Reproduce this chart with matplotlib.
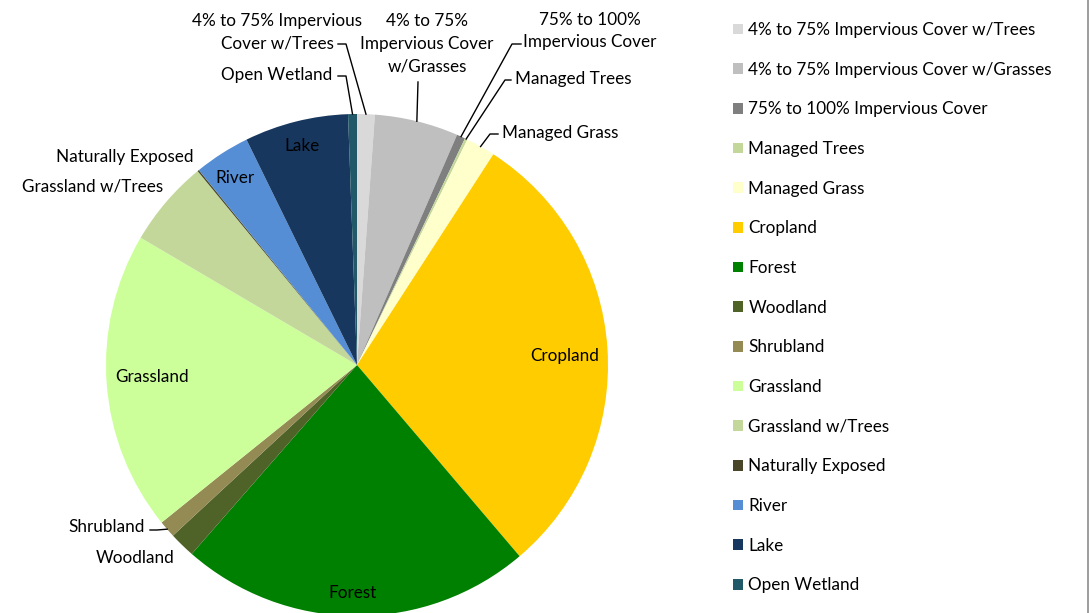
import numpy as np
import matplotlib.pyplot as plt
from matplotlib.lines import Line2D

plt.rcParams['font.family'] = ['Lato', 'DejaVu Sans']

categories = ["4% to 75% Impervious Cover w/Trees",
              "4% to 75% Impervious Cover w/Grasses",
              "75% to 100% Impervious Cover",
              "Managed Trees", "Managed Grass", "Cropland", "Forest",
              "Woodland", "Shrubland", "Grassland", "Grassland w/Trees",
              "Naturally Exposed", "River", "Lake", "Open Wetland"]
shares = [1.14, 5.4, 0.55, 0.17, 1.9, 29.7, 22.7, 1.67, 1.1, 19.3,
          5.6, 0.1, 3.6, 6.7, 0.57]
colors = ["#D9D9D9", "#BFBFBF", "#7F7F7F", "#C4D79B", "#FFFFCC",
          "#FFCC00", "#008000", "#4F6228", "#948A54", "#CCFF99",
          "#C4D79B", "#494529", "#558ED5", "#17375E", "#215968"]

fig = plt.figure(figsize=(10.89, 6.13), dpi=100)
ax = fig.add_axes([0, 0, 1, 1])

cx, cy, R = 357, 613 - 365, 251
wedges, _ = ax.pie(shares, colors=colors, startangle=90, counterclock=False,
                   center=(cx, cy), radius=R, frame=True,
                   wedgeprops=dict(linewidth=0))
ax.set_xlim(0, 1089)
ax.set_ylim(0, 613)
ax.axis("off")

fs = 12.3


def edge(i):
    w = wedges[i]
    a = np.deg2rad((w.theta1 + w.theta2) / 2)
    return cx + R * np.cos(a), cy + R * np.sin(a)


def Y(y):
    return 613 - y


# labels inside the pie
inside = {"Lake": (302, 146), "River": (235, 178), "Grassland": (152, 377),
          "Cropland": (565, 356), "Forest": (352, 593)}
for name, (x, y) in inside.items():
    ax.text(x, Y(y), name, ha="center", va="center", fontsize=fs)

# outside labels: wedge index, text, position, alignment, elbow points
outside = [
    (0, "4% to 75% Impervious\nCover w/Trees", (277, 32), "center", [(338, 44), (346, 44)]),
    (14, "Open Wetland", (277, 75), "center", [(338, 76), (346, 76)]),
    (1, "4% to 75%\nImpervious Cover\nw/Grasses", (427, 44), "center", [(418, 82)]),
    (2, "75% to 100%\nImpervious Cover", (590, 31), "center", [(521, 44), (512, 44)]),
    (3, "Managed Trees", (515, 79), "left", [(511, 80), (505, 80)]),
    (4, "Managed Grass", (502, 133), "left", [(498, 134), (490, 134)]),
    (8, "Shrubland", (107, 527), "center", [(150, 530), (157, 530)]),
    (7, "Woodland", (135, 558), "center", None),
    (11, "Naturally Exposed", (125, 157), "center", None),
    (10, "Grassland w/Trees", (93, 187), "center", None),
]
for i, text, (x, y), ha, pts in outside:
    ax.text(x, Y(y), text, ha=ha, va="center", fontsize=fs, linespacing=1.5)
    if pts:
        ex, ey = edge(i)
        xs = [p[0] for p in pts] + [ex]
        ys = [Y(p[1]) for p in pts] + [ey]
        ax.plot(xs, ys, color="black", linewidth=1)

fig.legend(wedges, categories, loc="upper left",
           bbox_to_anchor=(733 / 1089, 1 - 22 / 613),
           bbox_transform=fig.transFigure, frameon=False, fontsize=fs,
           handlelength=0.58, handleheight=0.58, handletextpad=0.32,
           labelspacing=1.385, borderpad=0, borderaxespad=0)

fig.add_artist(Line2D([1087.5 / 1089] * 2, [0, 1], color="#8C8C8C",
                      linewidth=1.2, transform=fig.transFigure))

fig.savefig("out.png", dpi=100)
